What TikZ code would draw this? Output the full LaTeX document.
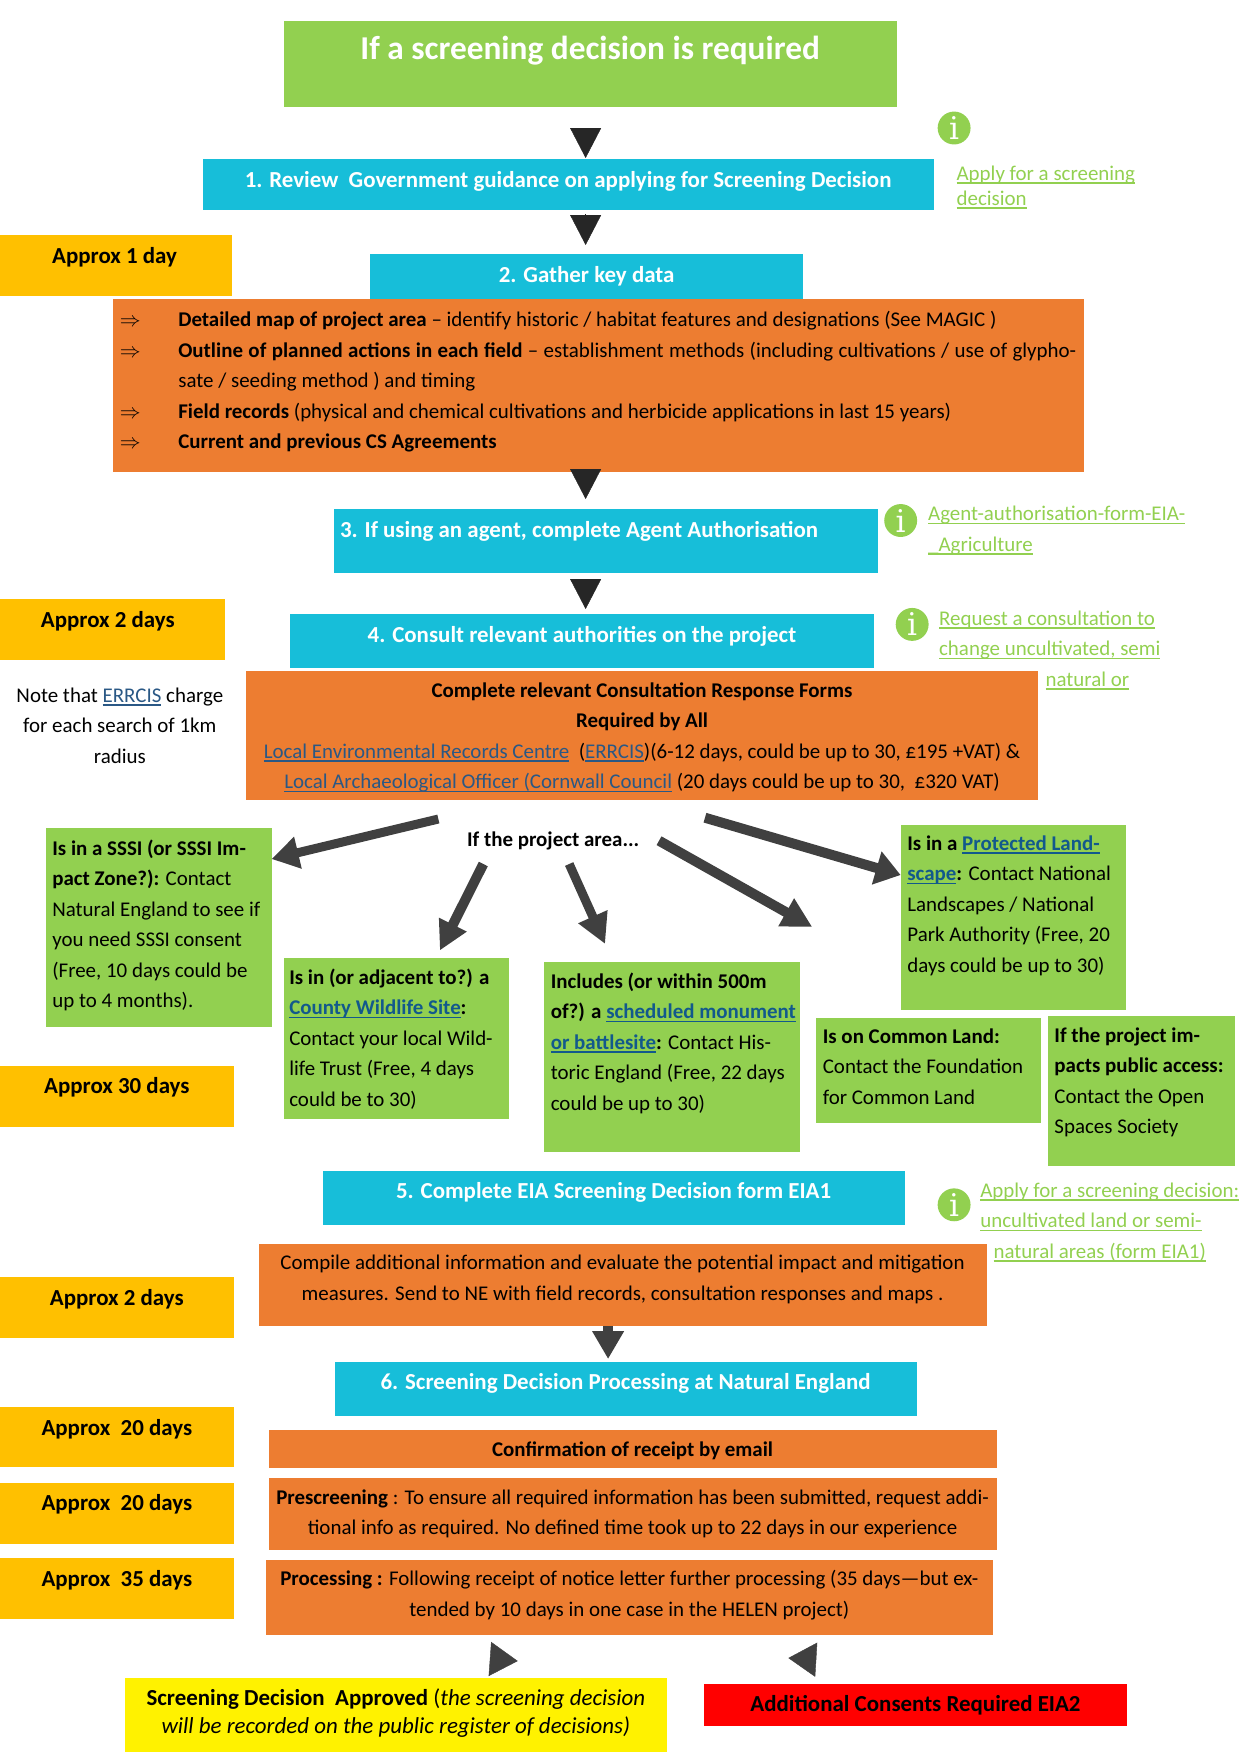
\documentclass[tikz,border=0pt]{standalone}
\usepackage{fontspec}
\setmainfont{Carlito}
\newfontfamily\icofont{DejaVu Serif}
\usetikzlibrary{arrows.meta,calc}
\definecolor{cgreen}{HTML}{92D050}
\definecolor{cblue}{HTML}{17BED9}
\definecolor{corange}{HTML}{ED7D31}
\definecolor{camber}{HTML}{FFC000}
\definecolor{cdark}{HTML}{404040}
\definecolor{ctop}{HTML}{262626}
\definecolor{linkor}{HTML}{2A5885}
\definecolor{linkgr}{HTML}{12598C}
\newlength\upx \setlength\upx{0.48pt}
\newsavebox\ulbox
\newcommand{\undl}[1]{\leavevmode\sbox\ulbox{#1}\rlap{\rule[-3.6\upx]{\wd\ulbox}{1.3\upx}}\usebox\ulbox}
\newcommand{\ctr}{\centering\leftskip=-30\upx plus 1fil\rightskip=-30\upx plus 1fil\relax}
\newcommand{\lft}[1]{\raggedright\leftskip=#1\upx\rightskip=-30\upx plus 1fil\relax}
\newcommand{\lk}[1]{{\color{linkgr}\undl{#1}}}
\newcommand{\lo}[1]{{\color{linkor}\undl{#1}}}
\newcommand{\gl}[1]{{\color{cgreen}\undl{#1}}}
\newcommand{\dbl}{\makebox[58.5\upx][l]{$\Rightarrow$}}
% #1 name #2 style #3 x0 #4 y0 #5 x1 #6 y1 #7 first baseline below top #8 alignment #9 text
\newcommand{\bx}[9]{%
  \pgfmathsetlengthmacro\bw{(#5-#3)*0.4793pt}%
  \pgfmathsetlengthmacro\bh{(#6-#4)*0.48pt}%
  \node[#2,inner sep=0pt,outer sep=0pt,minimum width=\bw,minimum height=\bh] (#1)
    at ({(#3+#5)/2},{(#4+#6)/2})
    {\parbox[c][\bh][t]{\bw}{#8\rule{0pt}{#7\upx}#9}};%
}
\tikzset{
  body/.style={font=\fontsize{10.05}{14.65}\selectfont,text=black},
  sect/.style={fill=cblue,text=white,font=\fontsize{11}{14.6}\selectfont\bfseries},
  title/.style={fill=cgreen,text=white,font=\fontsize{16}{20}\selectfont\bfseries},
  amber/.style={fill=camber,font=\fontsize{11}{14.6}\selectfont\bfseries},
  orange/.style={fill=corange,body},
  greenbox/.style={fill=cgreen,body},
  info/.style={circle,fill=cgreen,text=white,inner sep=0pt,minimum size=15.8pt,font=\fontsize{15}{15}\icofont},
  weblink/.style={body},
  downtip/.style={ctop,line width=0.2pt,-{Triangle[length=14.4pt,width=14.9pt]}},
  stubtip/.style={cdark,line width=10*\upx,-{Triangle[length=13.4pt,width=14.4pt]}},
  sidetip/.style={cdark,line width=0.2pt,-{Triangle[length=13.4pt,width=16.4pt]}},
  bigarrow/.style={cdark,line width=#1*\upx},
  bighead/.style n args={2}{-{Triangle[length=#1,width=#2]}},
}
\begin{document}
\begin{tikzpicture}[x=0.4793pt,y=-0.48pt]
\useasboundingbox (0,0) rectangle (1242.9,1755);
% column helpers
\coordinate (axis) at (586.5,0);
\coordinate (axisb) at (609,0);
% boxes
\bx{title}{title}{284}{21}{898}{107}{38.5}{\ctr}{If a screening decision is required}
\bx{step1}{sect}{203}{159}{935}{210}{28.5}{\ctr}{1. Review\ \ Government guidance on applying for Screening Decision}
\bx{day1}{amber}{0}{235}{232.5}{296}{28}{\ctr}{\hspace*{-3\upx}Approx 1 day}
\bx{step2}{sect}{371}{254}{804}{299}{28}{\ctr}{2. Gather key data}
\bx{data}{orange}{113.5}{299}{1086}{472}{27.5}{\lft{6.5}}{%
\dbl\textbf{Detailed map of project area} -- identify historic / habitat features and designations (See MAGIC )\\
\dbl\makebox[898\upx][s]{\textbf{Outline of planned actions in each field} -- establishment methods (including cultivations / use of glypho-}\\
\hspace*{58.5\upx}sate / seeding method ) and timing\\
\dbl\textbf{Field records} (physical and chemical cultivations and herbicide applications in last 15 years)\\
\dbl\textbf{Current and previous CS Agreements}}
\bx{step3}{sect}{334}{509}{879}{572.5}{28}{\lft{6.5}}{3. If using an agent, complete Agent Authorisation}
\bx{days2}{amber}{0}{599}{225}{660}{28}{\ctr}{\hspace*{-9\upx}Approx 2 days}
\bx{step4}{sect}{290.5}{614}{875}{668}{28}{\ctr}{4. Consult relevant authorities on the project}
\bx{forms}{orange}{246}{671}{1040}{800}{26}{\ctr}{%
\textbf{Complete relevant Consultation Response Forms}\\
\textbf{Required by All}\\
\lo{Local Environmental Records Centre}\ \ (\lo{ERRCIS})(6-12 days, could be up to 30, £195 +VAT) \&\\
\lo{Local Archaeological Officer (Cornwall Council} (20 days could be up to 30,\ \ £320 VAT)}
\bx{note}{body}{0}{675}{240}{775}{27}{\ctr}{Note that \lo{ERRCIS} charge\\for each search of 1km\\radius}
\node[body,font=\fontsize{10.05}{14.6}\selectfont\bfseries,inner sep=0pt] (ifarea) at (554,841) {If the project area...};
\bx{sssi}{greenbox}{46}{828}{272}{1027}{27}{\lft{6.4}}{%
\textbf{Is in a SSSI (or SSSI Im-}\\
\textbf{pact Zone?):} Contact\\
Natural England to see if\\
you need SSSI consent\\
(Free, 10 days could be\\
up to 4 months).}
\bx{county}{greenbox}{284}{958}{510}{1118.5}{26}{\lft{5.7}}{%
\textbf{Is in (or adjacent to?) a}\\
\lk{\textbf{County Wildlife Site}}\textbf{:}\\
Contact your local Wild-\\
life Trust (Free, 4 days\\
could be to 30)}
\bx{monument}{greenbox}{545}{962}{801}{1152}{26}{\lft{6.6}}{%
\textbf{Includes (or within 500m}\\
\textbf{of?) a} \lk{\textbf{scheduled monument}}\\
\lk{\textbf{or battlesite}}\textbf{:} Contact His-\\
toric England (Free, 22 days\\
could be up to 30)}
\bx{landscape}{greenbox}{902}{825}{1128}{1010}{25}{\lft{6.7}}{%
\textbf{Is in a} \lk{\textbf{Protected Land-}}\\
\lk{\textbf{scape}}\textbf{:} Contact National\\
Landscapes / National\\
Park Authority (Free, 20\\
days could be up to 30)}
\bx{common}{greenbox}{817}{1017.5}{1043}{1123}{25.5}{\lft{7}}{%
\textbf{Is on Common Land:}\\
Contact the Foundation\\
for Common Land}
\bx{access}{greenbox}{1050}{1016}{1237}{1165.6}{26}{\lft{6}}{%
\textbf{If the project im-}\\
\textbf{pacts public access:}\\
Contact the Open\\
Spaces Society}
\bx{days30}{amber}{0}{1066}{234}{1126.5}{27.6}{\ctr}{Approx 30 days}
\bx{step5}{sect}{323}{1170.6}{906}{1225}{28}{\ctr}{5. Complete EIA Screening Decision form EIA1}
\bx{compile}{orange}{259}{1243.5}{988}{1326}{26}{\ctr}{%
Compile additional information and evaluate the potential impact and mitigation\\
measures. Send to NE with field records, consultation responses and maps .}
\bx{days2b}{amber}{0}{1277}{234}{1337.6}{28}{\ctr}{Approx 2 days}
\bx{step6}{sect}{335}{1362}{918}{1416}{27.6}{\ctr}{6. Screening Decision Processing at Natural England}
\bx{days20a}{amber}{0}{1407}{234}{1467.4}{28}{\ctr}{Approx\ \ 20 days}
\bx{confirm}{orange}{269}{1429.5}{998}{1468}{26.5}{\ctr}{\textbf{Confirmation of receipt by email}}
\bx{days20b}{amber}{0}{1482.6}{234}{1543.7}{28}{\ctr}{Approx\ \ 20 days}
\bx{prescreen}{orange}{269}{1478}{998}{1550}{26}{\ctr}{%
\textbf{Prescreening} : To ensure all required information has been submitted, request addi-\\
tional info as required. No defined time took up to 22 days in our experience}
\bx{days35}{amber}{0}{1558}{234}{1619}{28}{\ctr}{Approx\ \ 35 days}
\bx{processing}{orange}{266}{1559.6}{994.5}{1635}{26}{\ctr}{%
\textbf{Processing :} Following receipt of notice letter further processing (35 days---but ex-\\
tended by 10 days in one case in the HELEN project)}
\bx{approved}{fill=yellow,font=\fontsize{11}{13.4}\selectfont}{125.4}{1678}{667.5}{1751.6}{27.7}{\ctr}{%
\textbf{Screening Decision\ \ Approved} (\textit{the screening decision}\\
\textit{will be recorded on the public register of decisions)}}
\bx{consents}{fill=red,font=\fontsize{11}{14.6}\selectfont\bfseries}{705}{1683.7}{1128.6}{1726}{27.7}{\ctr}{Additional Consents Required EIA2}
% information marks
\node[info] (info1) at (955.5,128) {i};
\node[info] (info3) at (902,520.5) {i};
\node[info] (info4) at (913.5,624.4) {i};
\node[info] (info5) at (955.5,1204.8) {i};
% links
\bx{link1}{weblink,font=\fontsize{10.05}{12}\selectfont}{958}{160}{1190}{215}{20}{\lft{0}}{\gl{Apply for a screening}\\\gl{decision}}
\bx{link3}{weblink}{929.5}{500}{1200}{565}{20.5}{\lft{0}}{\gl{Agent-authorisation-form-EIA-}\\\gl{\_Agriculture}}
\bx{link4}{weblink}{940.5}{605}{1200}{695}{20}{\lft{0}}{\gl{Request a consultation to}\\\gl{change uncultivated, semi}\\\hspace*{106.5\upx}\gl{natural or}}
\bx{link5}{weblink}{981.7}{1177}{1241}{1265}{20}{\lft{0}}{\gl{Apply for a screening decision:}\\\gl{uncultivated land or semi-}\\\hspace*{13.3\upx}\gl{natural areas (form EIA1)}}
% straight flow triangles
\draw[downtip,shorten <=21*\upx,shorten >=1*\upx] (title.south -| axis) -- (step1.north -| axis);
\draw[downtip,shorten <=4*\upx,shorten >=9*\upx] (step1.south -| axis) -- (step2.north -| axis);
\draw[downtip,shorten <=-4*\upx,shorten >=10*\upx] (data.south -| axis) -- (step3.north -| axis);
\draw[downtip,shorten <=6.5*\upx,shorten >=5*\upx] (step3.south -| axis) -- (step4.north -| axis);
\draw[stubtip,shorten >=3*\upx] (compile.south -| axisb) -- (step6.north -| axisb);
% thick arrows from the project-area text
\coordinate (a1) at (439,819);
\coordinate (a2) at (272,859);
\coordinate (b1) at (484,864);
\coordinate (b2) at (440.5,950.5);
\coordinate (c1) at (570,864);
\coordinate (c2) at (606,944);
\coordinate (d1) at (660,840.7);
\coordinate (d2) at (813.5,927);
\coordinate (e1) at (706,817.7);
\coordinate (e2) at (902,875);
\draw[bigarrow=9,bighead={13pt}{14.9pt}] (a1) -- (a2);
\draw[bigarrow=10,bighead={13.9pt}{13.9pt}] (b1) -- (b2);
\draw[bigarrow=9,bighead={14.4pt}{14.4pt}] (c1) -- (c2);
\draw[bigarrow=10,bighead={14.4pt}{14.4pt}] (d1) -- (d2);
\draw[bigarrow=10,bighead={12pt}{15.8pt}] (e1) -- (e2);
% bottom side triangles
\coordinate (f1) at (491,1659);
\coordinate (f2) at (518.5,1661);
\coordinate (g1) at (817.6,1659.7);
\coordinate (g2) at (789.5,1658);
\draw[sidetip] (f1) -- (f2);
\draw[sidetip] (g1) -- (g2);
\end{tikzpicture}
\end{document}
